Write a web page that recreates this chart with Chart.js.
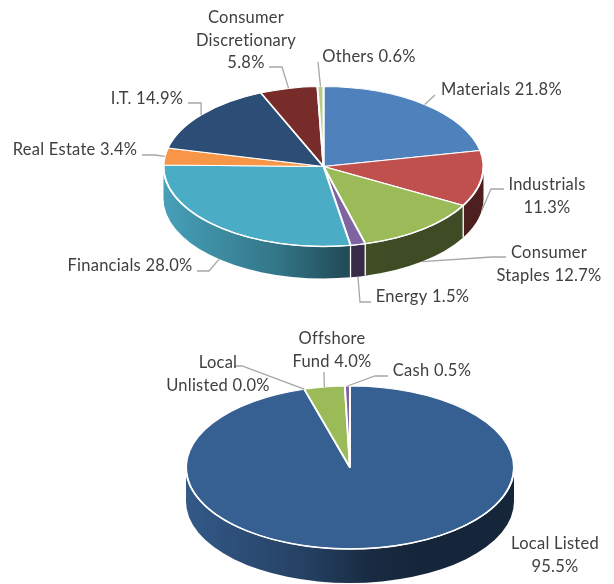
<!DOCTYPE html>
<html>
<head>
<meta charset="utf-8">
<title>Portfolio allocation</title>
<script src="https://cdn.jsdelivr.net/npm/chart.js@4"></script>
<style>
    html, body { margin: 0; padding: 0; background: #fff; }
    #wrap { position: relative; width: 614px; height: 584px; overflow: hidden; }
    .pane { position: absolute; left: 0; width: 614px; }
    #sectorPane { top: 0; height: 320px; }
    #assetPane { top: 320px; height: 264px; }
</style>
</head>
<body>
<div id="wrap">
    <div class="pane" id="sectorPane"><canvas id="sectorChart"></canvas></div>
    <div class="pane" id="assetPane"><canvas id="assetChart"></canvas></div>
</div>
<script>
const sectorNames = ['Materials', 'Industrials', 'Consumer Staples', 'Energy', 'Financials', 'Real Estate', 'I.T.', 'Consumer Discretionary', 'Others'];
const sectorValues = [21.8, 11.3, 12.7, 1.5, 28.0, 3.4, 14.9, 5.8, 0.6];
const sectorColors = ['#4f81bd', '#c0504d', '#9bbb59', '#8064a2', '#4bacc6', '#f79646', '#2c4d75', '#772c2a', '#b3cd86'];

const assetNames = ['Local Listed', 'Local Unlisted', 'Offshore Fund', 'Cash'];
const assetValues = [95.5, 0.0, 4.0, 0.5];
const assetColors = ['#376092', '#c0504d', '#9bbb59', '#8064a2'];

const TEXT_COLOR = '#404040';
const LEADER_COLOR = '#a6a6a6';
const FONT = '16.5px Lato';
// brightness of the pie's side wall, from its left edge to its right edge
const WALL_SHADE = [[0, 0.93], [0.36, 0.68], [0.56, 0.45], [0.7, 0.4], [1, 0.4]];

// label text placement, in canvas coordinates. leader is the elbow of the line towards the slice
const sectorPlacement = [
    { lines: ['Materials 21.8%'], x: 501.5, y: 90, leader: [[435, 95]] },
    { lines: ['Industrials', '11.3%'], x: 547, y: 185, leader: [[491, 189], [504, 189]] },
    { lines: ['Consumer', 'Staples 12.7%'], x: 549, y: 253, leader: [[492, 257], [506, 257]] },
    { lines: ['Energy 1.5%'], x: 422.5, y: 297, leader: [[360, 302], [371, 302]] },
    { lines: ['Financials 28.0%'], x: 130, y: 266, leader: [[209, 271], [197, 271]] },
    { lines: ['Real Estate 3.4%'], x: 75, y: 150, leader: [[155, 155], [142, 155]] },
    { lines: ['I.T. 14.9%'], x: 147, y: 99, leader: [[201, 103], [188, 103]] },
    { lines: ['Consumer', 'Discretionary', '5.8%'], x: 246, y: 18, leader: [[282, 67], [269, 67]] },
    { lines: ['Others 0.6%'], x: 369, y: 57, leader: [[318, 62]] }
];
const assetPlacement = [
    { lines: ['Local Listed', '95.5%'], x: 555, y: 224, leader: [] },
    { lines: ['Local', 'Unlisted 0.0%'], x: 218, y: 43, leader: [[242, 46], [235, 46]] },
    { lines: ['Offshore', 'Fund 4.0%'], x: 332, y: 19, leader: [[324, 52]] },
    { lines: ['Cash 0.5%'], x: 432, y: 51, leader: [[375, 56], [388, 56]] }
];

function shade(hex, factor) {
    const n = parseInt(hex.slice(1), 16);
    const r = Math.round((n >> 16 & 255) * factor);
    const g = Math.round((n >> 8 & 255) * factor);
    const b = Math.round((n & 255) * factor);
    return `rgb(${r},${g},${b})`;
}

/**
 * Squashes the pie into an ellipse and gives it a side wall, using the arcs Chart.js laid out
 */
const pie3d = {
    id: 'pie3d',
    beforeDatasetsDraw(chart, args, opts) {
        const ctx = chart.ctx;
        const arcs = chart.getDatasetMeta(0).data;
        const { x: cx, y: cy, outerRadius: rx } = arcs[0];
        const ry = rx * opts.tilt;
        const colors = chart.data.datasets[0].backgroundColor;

        arcs.forEach((arc, i) => {
            const from = Math.max(arc.startAngle, 0);
            const to = Math.min(arc.endAngle, Math.PI);
            if (to <= from) return;
            const grad = ctx.createLinearGradient(cx - rx, 0, cx + rx, 0);
            WALL_SHADE.forEach(([stop, factor]) => grad.addColorStop(stop, shade(colors[i], factor)));
            ctx.beginPath();
            ctx.ellipse(cx, cy, rx, ry, 0, from, to);
            ctx.ellipse(cx, cy + opts.depth, rx, ry, 0, to, from, true);
            ctx.closePath();
            ctx.fillStyle = grad;
            ctx.fill();
        });

        // white seams where slices meet on the wall
        ctx.strokeStyle = '#fff';
        ctx.lineWidth = 1.3;
        arcs.forEach(arc => {
            const a = arc.endAngle;
            if (a <= 0 || a >= Math.PI) return;
            const px = cx + rx * Math.cos(a);
            const py = cy + ry * Math.sin(a);
            ctx.beginPath();
            ctx.moveTo(px, py);
            ctx.lineTo(px, py + opts.depth);
            ctx.stroke();
        });

        ctx.save();
        ctx.translate(cx, cy);
        ctx.scale(1, opts.tilt);
        ctx.translate(-cx, -cy);
    },
    afterDatasetsDraw(chart, args, opts) {
        const ctx = chart.ctx;
        ctx.restore();

        const arcs = chart.getDatasetMeta(0).data;
        const { x: cx, y: cy, outerRadius: rx } = arcs[0];
        const ry = rx * opts.tilt;

        // front rim
        ctx.strokeStyle = '#fff';
        ctx.lineWidth = 1.5;
        ctx.beginPath();
        ctx.ellipse(cx, cy, rx, ry, 0, 0, Math.PI);
        ctx.stroke();

        // leader lines start on the rim at each slice's middle
        ctx.strokeStyle = LEADER_COLOR;
        ctx.lineWidth = 1.3;
        opts.placement.forEach((label, i) => {
            if (!label.leader.length) return;
            const mid = (arcs[i].startAngle + arcs[i].endAngle) / 2;
            const sx = cx + rx * Math.cos(mid);
            let sy = cy + ry * Math.sin(mid);
            if (Math.sin(mid) > 0) sy += opts.depth;
            ctx.beginPath();
            ctx.moveTo(sx, sy);
            label.leader.forEach(([x, y]) => ctx.lineTo(x, y));
            ctx.stroke();
        });

        ctx.fillStyle = TEXT_COLOR;
        ctx.font = FONT;
        ctx.letterSpacing = '0.25px';
        ctx.textAlign = 'center';
        ctx.textBaseline = 'middle';
        opts.placement.forEach(label => {
            label.lines.forEach((line, j) => {
                ctx.fillText(line, label.x, label.y + j * opts.lineHeight);
            });
        });
        ctx.letterSpacing = '0px';
    }
};

function createPie(canvasId, names, values, colors, layout, placement) {
    return new Chart(document.getElementById(canvasId), {
        type: 'pie',
        data: {
            labels: names,
            datasets: [{
                data: values,
                backgroundColor: colors,
                borderColor: '#fff',
                borderWidth: 2,
                clip: false
            }]
        },
        options: {
            responsive: true,
            maintainAspectRatio: false,
            animation: false,
            radius: layout.radius,
            layout: { padding: layout.padding },
            plugins: {
                legend: { display: false },
                tooltip: { enabled: false },
                pie3d: { tilt: layout.tilt, depth: layout.depth, lineHeight: 22.5, placement }
            }
        },
        plugins: [pie3d]
    });
}

createPie('sectorChart', sectorNames, sectorValues, sectorColors,
    { radius: 160, tilt: 0.5, depth: 32, padding: { left: 33, top: 13 } }, sectorPlacement);
createPie('assetChart', assetNames, assetValues, assetColors,
    { radius: 164, tilt: 0.497, depth: 34, padding: { left: 86, top: 31 } }, assetPlacement);
</script>
</body>
</html>
